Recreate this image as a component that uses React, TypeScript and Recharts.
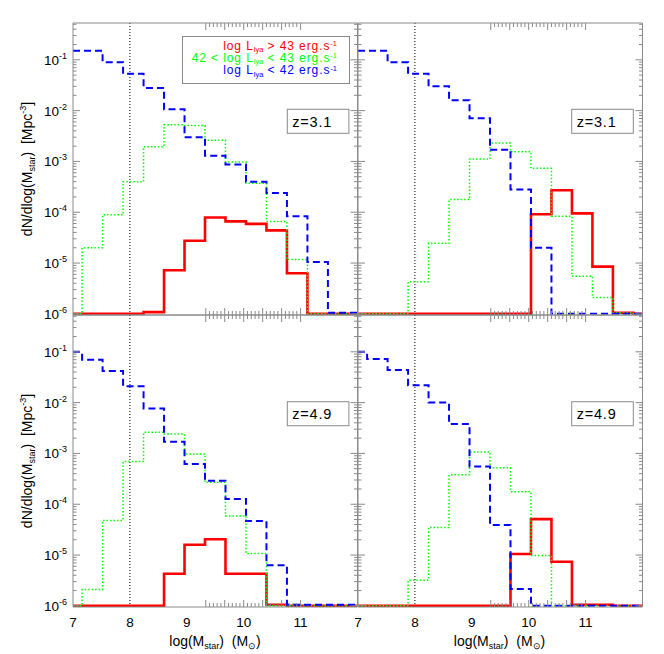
import React from 'react';
import { ComposedChart, Line, XAxis, YAxis, ReferenceLine, Legend } from 'recharts';

// bin edges of log(M_star); the last value of each series is held to 12
const massEdges = [7, 7.16, 7.52, 7.88, 8.24, 8.6, 8.96, 9.32, 9.68, 10.04, 10.4, 10.76, 11.12, 11.48, 11.84, 12];

// empty bins sit on the floor of the plot
const B = 1e-6;

// z=3.1, left panel
const z31aRed = [B, B, B, B, 1.08e-6, 7.2e-6, 2.75e-5, 7.9e-5, 6.6e-5, 5.9e-5, 4.4e-5, 6.3e-6, B, B, B];
const z31aGreen = [B, 2.0e-5, 8.9e-5, 4.0e-4, 1.95e-3, 5.3e-3, 5.1e-3, 2.6e-3, 9.8e-4, 3.7e-4, 6.6e-5, 1.17e-5, B, B, B];
const z31aBlue = [0.15, 0.15, 0.09, 0.053, 0.028, 0.0106, 0.003, 0.0013, 8.7e-4, 4.0e-4, 2.4e-4, 8.3e-5, 1.05e-5, 1.05e-6, 1.05e-6];

// z=3.1, right panel
const z31bRed = [B, B, B, B, B, B, B, B, B, 9.1e-5, 2.7e-4, 9.5e-5, 8.5e-6, 1.05e-6, B];
const z31bGreen = [B, B, B, 4.3e-6, 2.45e-5, 1.78e-4, 1.12e-3, 2.3e-3, 1.55e-3, 7.3e-4, 8.3e-5, 5.5e-6, 2.1e-6, 1.05e-6, B];
const z31bBlue = [0.15, 0.15, 0.089, 0.053, 0.03, 0.016, 0.0071, 0.0017, 2.8e-4, 2.0e-5, B, B, B, B, B];

// z=4.9, left panel
const z49aRed = [B, B, B, B, B, 4.3e-6, 1.6e-5, 2.05e-5, 4.3e-6, 4.3e-6, 1.05e-6, B, B, B, B];
const z49aGreen = [B, 2.1e-6, 4.8e-5, 6.9e-4, 2.6e-3, 2.4e-3, 9.8e-4, 2.7e-4, 5.9e-5, 1.07e-5, B, B, B, B, B];
const z49aBlue = [0.1, 0.07, 0.042, 0.021, 0.0077, 0.0017, 6.2e-4, 2.9e-4, 1.27e-4, 4.7e-5, 6.3e-6, 1.05e-6, 1.05e-6, 1.05e-6, 1.05e-6];

// z=4.9, right panel
const z49bRed = [B, B, B, B, B, B, B, B, 1.05e-5, 5.1e-5, 7.4e-6, 1.05e-6, 1.05e-6, B, B];
const z49bGreen = [B, B, B, 3.2e-6, 3.5e-5, 3.8e-4, 1.07e-3, 5.2e-4, 1.77e-4, 9.8e-6, B, B, B, B, B];
const z49bBlue = [0.1, 0.072, 0.044, 0.022, 0.01, 0.0038, 5.5e-4, 3.9e-5, 2.15e-6, B, B, B, B, B, B];

const xLabelTicks = [7, 8, 9, 10, 11];
const xMajorTicks = [7, 8, 9, 10, 11, 12];
const xMinorTicks: number[] = [];
for (let i = 1; i < 25; i++) if (i % 5 !== 0) xMinorTicks.push(7 + i * 0.2);

const yExponents = [-6, -5, -4, -3, -2, -1];
const yMajorTicks = yExponents.map((e) => Math.pow(10, e));
const yMinorTicks: number[] = [];
for (let e = -7; e <= -1; e++) {
  for (let m = 2; m <= 9; m++) {
    const v = m * Math.pow(10, e);
    if (v > 9.5e-7 && v < 0.53) yMinorTicks.push(v);
  }
}

const X_DOMAIN = [7, 12];
const Y_DOMAIN = [9.5e-7, 0.53];

const seriesKeys = ['red', 'green', 'blue'];
const seriesColors = ['#ff0000', '#00ff00', '#0000ff'];
const legendLeft = ['', '42 < ', ''];
const legendRight = [' > 43', ' < 43', ' < 42'];

const FONT = '"Liberation Sans", Arial, Helvetica, sans-serif';
const FRAME = '#8a8a8a';
const PW = 284.5;
const PH = 292;
// mirrored tick axes must not be 0 thick or they are skipped
const THIN = 0.01;

function NoTick() {
  return null;
}

function XTick({ x, y, payload }: any) {
  return (
    <text x={x} y={y + 20} textAnchor="middle" fontSize={13.5} fontFamily={FONT} fill="#000">
      {payload.value}
    </text>
  );
}

function YTick({ x, y, payload }: any) {
  const e = Math.round(Math.log10(payload.value));
  return (
    <text x={x - 6} y={y + 5} textAnchor="end" fontSize={13.5} fontFamily={FONT} fill="#000">
      10
      <tspan fontSize={9} dy={-6}>{e}</tspan>
    </text>
  );
}

function LegendBox({ payload }: any) {
  const items = [...(payload || [])].sort(
    (a: any, b: any) => seriesKeys.indexOf(a.dataKey) - seriesKeys.indexOf(b.dataKey)
  );
  return (
    <div
      style={{
        border: `1px solid ${FRAME}`,
        background: '#fff',
        padding: '4px 12px 5px 4px',
        textAlign: 'right',
        fontFamily: FONT,
        fontSize: 12,
        letterSpacing: 0.9,
        lineHeight: '11.3px',
        whiteSpace: 'pre',
      }}
    >
      {items.map((p: any) => {
        const i = seriesKeys.indexOf(p.dataKey);
        return (
          <div key={p.dataKey} style={{ color: seriesColors[i] }}>
            {legendLeft[i]}log L
            <span style={{ fontSize: 7.5, letterSpacing: 0, position: 'relative', top: 2.5 }}>lya</span>
            {legendRight[i]} erg.s
            <span style={{ fontSize: 7.5, letterSpacing: 0, position: 'relative', top: -3.5 }}>-1</span>
          </div>
        );
      })}
    </div>
  );
}

interface PanelProps {
  x: number;
  y: number;
  showX: boolean;
  showY: boolean;
  red: number[];
  green: number[];
  blue: number[];
  legend?: boolean;
}

function Panel({ x, y, showX, showY, red, green, blue, legend }: PanelProps) {
  const padL = showY ? 73 : 3;
  const padT = 3;
  const padR = 3;
  const padB = showX ? 30 : 10;
  const last = red.length - 1;
  const rows = massEdges.map((m, i) => ({
    m,
    red: red[Math.min(i, last)],
    green: green[Math.min(i, last)],
    blue: blue[Math.min(i, last)],
  }));
  const tickAxis = { allowDataOverflow: true, domain: X_DOMAIN, type: 'number' as const, interval: 0 as const, tick: <NoTick />, tickLine: { stroke: FRAME } };
  const tickYAxis = { allowDataOverflow: true, domain: Y_DOMAIN, type: 'number' as const, scale: 'log' as const, interval: 0 as const, tick: <NoTick />, tickLine: { stroke: FRAME } };
  return (
    <div style={{ position: 'absolute', left: x - padL, top: y - padT }}>
      <ComposedChart
        width={padL + PW + padR}
        height={padT + PH + padB}
        data={rows}
        margin={{ top: padT, right: padR, bottom: showX ? padB - 30 : padB, left: showY ? padL - 60 : padL }}
        style={{ overflow: 'visible' }}
      >
        <XAxis
          xAxisId="x"
          dataKey="m"
          type="number"
          domain={X_DOMAIN}
          allowDataOverflow
          ticks={xLabelTicks}
          interval={0}
          hide={!showX}
          height={30}
          tickLine={false}
          axisLine={false}
          tickSize={0}
          tickMargin={0}
          tick={<XTick />}
        />
        <YAxis
          yAxisId="y"
          type="number"
          scale="log"
          domain={Y_DOMAIN}
          allowDataOverflow
          ticks={yMajorTicks}
          interval={0}
          hide={!showY}
          width={60}
          tickLine={false}
          axisLine={false}
          tickSize={0}
          tickMargin={0}
          tick={<YTick />}
        />
        {/* frame and inward tick marks */}
        <XAxis xAxisId="bMaj" orientation="bottom" mirror height={THIN} ticks={xMajorTicks} tickSize={7} stroke={FRAME} {...tickAxis} />
        <XAxis xAxisId="bMin" orientation="bottom" mirror height={THIN} ticks={xMinorTicks} tickSize={4} stroke={FRAME} axisLine={false} {...tickAxis} />
        <XAxis xAxisId="tMaj" orientation="top" mirror height={THIN} ticks={xMajorTicks} tickSize={7} stroke={FRAME} {...tickAxis} />
        <XAxis xAxisId="tMin" orientation="top" mirror height={THIN} ticks={xMinorTicks} tickSize={4} stroke={FRAME} axisLine={false} {...tickAxis} />
        <YAxis yAxisId="lMaj" orientation="left" mirror width={THIN} ticks={yMajorTicks} tickSize={7} stroke={FRAME} {...tickYAxis} />
        <YAxis yAxisId="lMin" orientation="left" mirror width={THIN} ticks={yMinorTicks} tickSize={3.5} stroke={FRAME} axisLine={false} {...tickYAxis} />
        <YAxis yAxisId="rMaj" orientation="right" mirror width={THIN} ticks={yMajorTicks} tickSize={7} stroke={FRAME} {...tickYAxis} />
        <YAxis yAxisId="rMin" orientation="right" mirror width={THIN} ticks={yMinorTicks} tickSize={3.5} stroke={FRAME} axisLine={false} {...tickYAxis} />
        <ReferenceLine xAxisId="x" yAxisId="y" x={8} stroke="#000" strokeWidth={1} strokeDasharray="1 2" />
        <Line xAxisId="x" yAxisId="y" dataKey="red" type="stepAfter" stroke="#ff0000" strokeWidth={2.6} dot={false} activeDot={false} isAnimationActive={false} />
        <Line xAxisId="x" yAxisId="y" dataKey="green" type="stepAfter" stroke="#00ff00" strokeWidth={1.5} strokeDasharray="1.5 2" dot={false} activeDot={false} isAnimationActive={false} />
        <Line xAxisId="x" yAxisId="y" dataKey="blue" type="stepAfter" stroke="#0000ff" strokeWidth={2} strokeDasharray="7 4" dot={false} activeDot={false} isAnimationActive={false} />
        {legend && (
          <Legend
            layout="vertical"
            align="center"
            verticalAlign="middle"
            wrapperStyle={{ left: 181.7 - (x - padL), top: 35.7 - (y - padT), width: 168.3 }}
            content={<LegendBox />}
          />
        )}
      </ComposedChart>
    </div>
  );
}

function ZBox({ x, y, text }: { x: number; y: number; text: string }) {
  return (
    <g>
      <rect x={x} y={y} width={61.6} height={24} fill="#fff" stroke={FRAME} strokeWidth={1} />
      <text x={x + 5} y={y + 17.5} fontSize={14.5} letterSpacing={0.8} fontFamily={FONT} fill="#000">
        {text}
      </text>
    </g>
  );
}

function YTitle({ cy }: { cy: number }) {
  return (
    <text
      x={31.5}
      y={cy}
      transform={`rotate(-90 31.5 ${cy})`}
      textAnchor="middle"
      fontSize={14}
      fontFamily={FONT}
      fill="#000"
      style={{ whiteSpace: 'pre' }}
    >
      dN/dlog(M<tspan fontSize={9} dy={3}>star</tspan>
      <tspan dy={-3}>)  [Mpc</tspan>
      <tspan fontSize={9} dy={-6}>-3</tspan>
      <tspan dy={6}>]</tspan>
    </text>
  );
}

function XTitle({ cx }: { cx: number }) {
  return (
    <text x={cx} y={646} textAnchor="middle" fontSize={14} fontFamily={FONT} fill="#000" style={{ whiteSpace: 'pre' }}>
      log(M<tspan fontSize={9} dy={3}>star</tspan>
      <tspan dy={-3}>)  (M</tspan>
      <tspan fontSize={9} dy={3}>⊙</tspan>
      <tspan dy={-3}>)</tspan>
    </text>
  );
}

export default function App() {
  return (
    <div style={{ position: 'absolute', left: 0, top: 0, width: 664, height: 654, background: '#fff', overflow: 'hidden' }}>
      <Panel x={73} y={23} showX={false} showY red={z31aRed} green={z31aGreen} blue={z31aBlue} legend />
      <Panel x={357.5} y={23} showX={false} showY={false} red={z31bRed} green={z31bGreen} blue={z31bBlue} />
      <Panel x={73} y={315} showX showY red={z49aRed} green={z49aGreen} blue={z49aBlue} />
      <Panel x={357.5} y={315} showX showY={false} red={z49bRed} green={z49bGreen} blue={z49bBlue} />
      <svg width={664} height={654} style={{ position: 'absolute', left: 0, top: 0, pointerEvents: 'none' }}>
        <ZBox x={287.3} y={109.3} text="z=3.1" />
        <ZBox x={571.7} y={109.3} text="z=3.1" />
        <ZBox x={287.3} y={401.7} text="z=4.9" />
        <ZBox x={571.7} y={401.7} text="z=4.9" />
        <YTitle cy={169} />
        <YTitle cy={461} />
        <XTitle cx={215} />
        <XTitle cx={499.5} />
      </svg>
    </div>
  );
}
